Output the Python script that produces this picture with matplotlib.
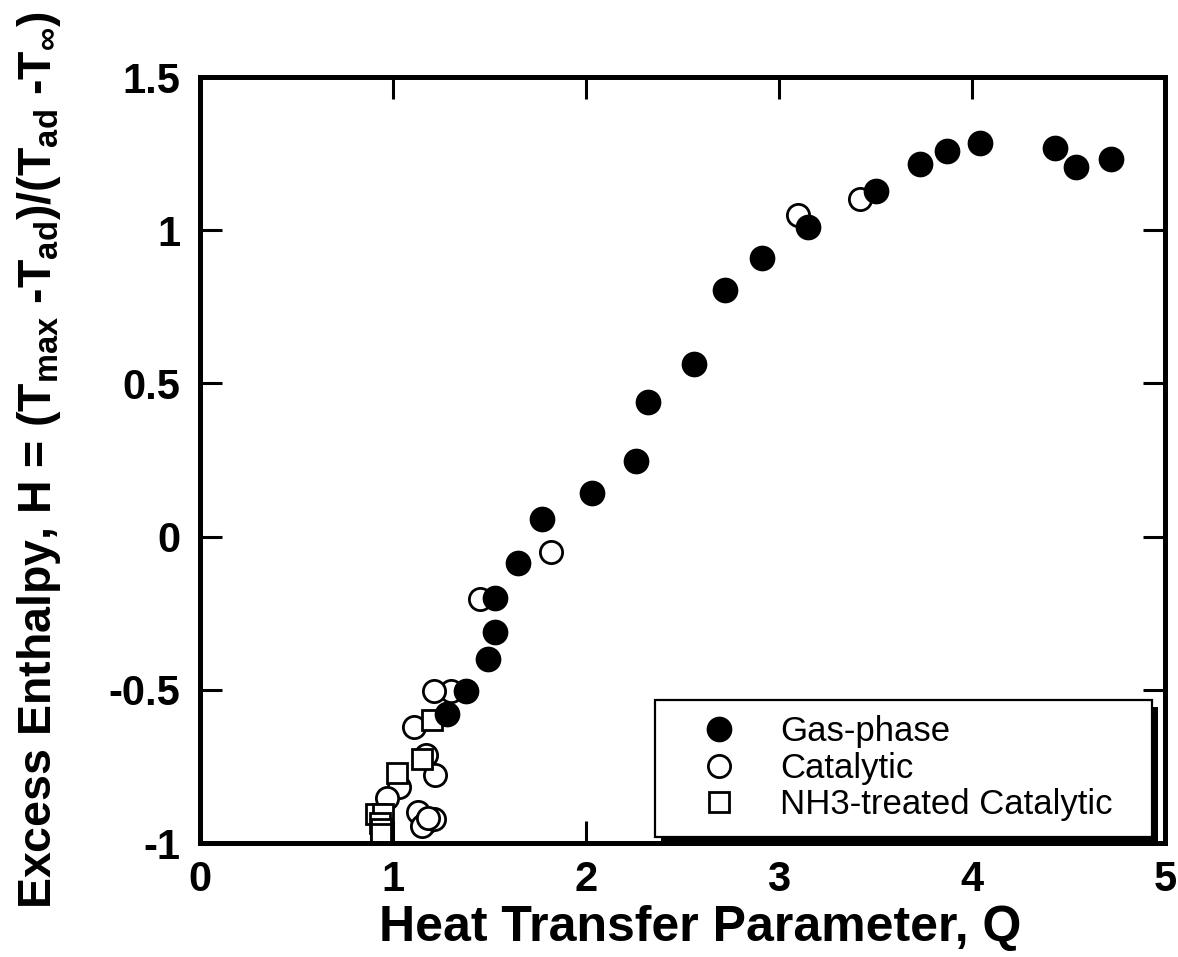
import matplotlib
matplotlib.use("Agg")
import matplotlib.pyplot as plt
from matplotlib.patches import Rectangle

# data
gas_q = [4.72, 4.54, 4.43, 4.04, 3.87, 3.73, 3.50, 3.15, 2.91, 2.72, 2.56,
         2.32, 2.26, 2.03, 1.77, 1.65, 1.53, 1.53, 1.49, 1.38, 1.28]
gas_h = [1.232, 1.206, 1.268, 1.284, 1.258, 1.216, 1.127, 1.010, 0.908, 0.804,
         0.562, 0.441, 0.248, 0.144, 0.056, -0.085, -0.199, -0.310, -0.399,
         -0.503, -0.578]

cat_q = [3.10, 3.42, 1.82, 1.45, 1.30, 1.21, 1.11, 1.17, 1.22, 1.03, 0.97,
         1.13, 1.17, 1.15, 1.21, 1.18]
cat_h = [1.049, 1.101, -0.049, -0.203, -0.503, -0.503, -0.621, -0.712, -0.778,
         -0.818, -0.853, -0.900, -0.930, -0.944, -0.920, -0.918]

nh3_q = [1.20, 1.15, 1.02, 0.91, 0.95, 0.93, 0.94, 0.94]
nh3_h = [-0.598, -0.725, -0.770, -0.905, -0.905, -0.935, -0.955, -0.970]

xticks = [0, 1, 2, 3, 4, 5]
xtick_labels = ["0", "1", "2", "3", "4", "5"]
yticks = [-1, -0.5, 0, 0.5, 1, 1.5]
ytick_labels = ["-1", "-0.5", "0", "0.5", "1", "1.5"]

plt.rcParams["font.family"] = ["Liberation Sans", "DejaVu Sans"]
plt.rcParams["mathtext.fontset"] = "custom"
plt.rcParams["mathtext.rm"] = "Liberation Sans:bold"
plt.rcParams["mathtext.it"] = "Liberation Sans:bold"
plt.rcParams["mathtext.bf"] = "Liberation Sans:bold"

fig = plt.figure(figsize=(11.78, 9.57), dpi=100)
ax = fig.add_axes([0.1698, 0.1191, 0.8192, 0.8004])

ms = 16.5
ax.plot(gas_q, gas_h, "o", ms=ms, mfc="black", mec="black", mew=2,
        label="Gas-phase", zorder=3)
ax.plot(cat_q, cat_h, "o", ms=ms - 0.5, mfc="white", mec="black", mew=2,
        label="Catalytic", zorder=2)
ax.plot(nh3_q, nh3_h, "s", ms=ms - 1.5, mfc="white", mec="black", mew=2,
        label="NH3-treated Catalytic", zorder=2)

ax.set_xlim(0, 5)
ax.set_ylim(-1, 1.5)
ax.set_xticks(xticks)
ax.set_xticklabels(xtick_labels)
ax.set_yticks(yticks)
ax.set_yticklabels(ytick_labels)

for lab in ax.get_xticklabels() + ax.get_yticklabels():
    lab.set_fontweight("bold")
    lab.set_fontsize(30)

ax.tick_params(axis="both", direction="in", length=16, width=2.2,
               top=True, right=True)
ax.tick_params(axis="x", pad=12)
ax.tick_params(axis="y", pad=14)
for sp in ax.spines.values():
    sp.set_linewidth(3.6)

ax.set_xlabel("Heat Transfer Parameter, Q", fontsize=36, fontweight="bold",
              labelpad=4)
ax.xaxis.label.set_x(0.518)
ax.set_ylabel(r"Excess Enthalpy, H = (T$_{max}$ -T$_{ad}$)/(T$_{ad}$ -T$_{\infty}$)",
              fontsize=33.5, fontweight="bold", labelpad=33)

leg = ax.legend(loc="lower left", bbox_to_anchor=(0.4715, 0.0078, 0.515, 0.17),
                mode="expand", fontsize=25, frameon=True, fancybox=False,
                framealpha=1, facecolor="white",
                borderpad=0.45, labelspacing=0.1, handletextpad=0.35,
                borderaxespad=0, handlelength=2.8, markerscale=1.0)
leg.get_frame().set_edgecolor("black")
leg.get_frame().set_linewidth(1.6)
leg.set_zorder(5)

# drop shadow behind the legend box, offset down-right
fig.canvas.draw()
bb = leg.get_window_extent().transformed(ax.transAxes.inverted())
dx = 6 / (fig.dpi * 11.78 * 0.8192)
dy = 7 / (fig.dpi * 9.57 * 0.8004)
ax.add_patch(Rectangle((bb.x0 + dx, bb.y0 - dy), bb.width, bb.height,
                       transform=ax.transAxes, facecolor="black",
                       edgecolor="none", zorder=4.9, clip_on=False))

fig.savefig("out.png", dpi=100)
